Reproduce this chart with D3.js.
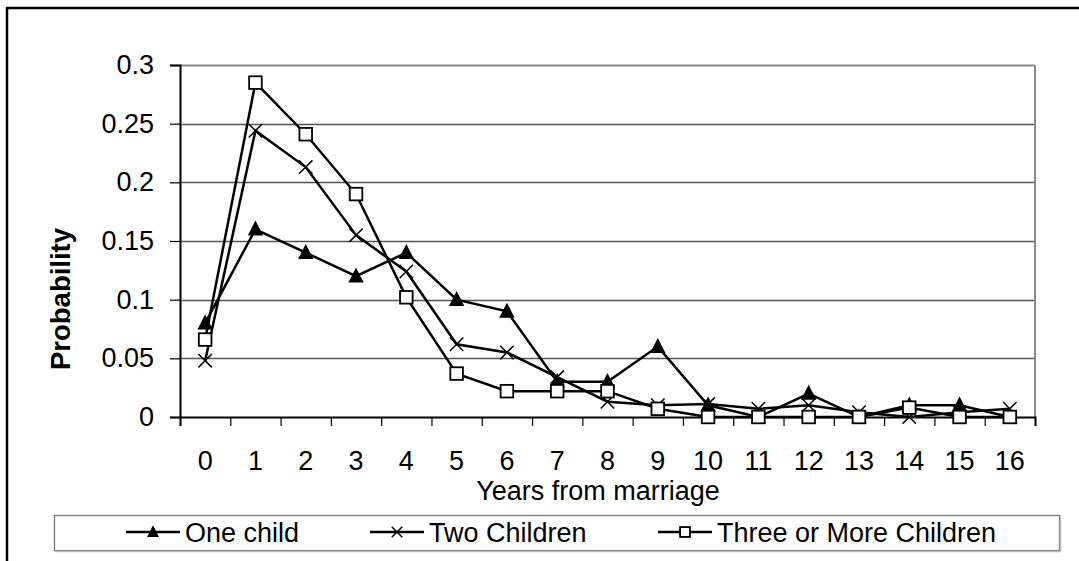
<!DOCTYPE html>
<html>
<head>
<meta charset="utf-8">
<script src="https://cdn.jsdelivr.net/npm/d3@7"></script>
<style>
  body { margin: 0; background: #fff; }
  svg { display: block; font-family: Arial, "Liberation Sans", sans-serif; }
</style>
</head>
<body>
<div id="chart"></div>
<script>
var width = 1079;
var height = 561;

// data
var years = ["0","1","2","3","4","5","6","7","8","9","10","11","12","13","14","15","16"];
var oneChild = [0.08, 0.16, 0.14, 0.12, 0.14, 0.10, 0.09, 0.03, 0.03, 0.06, 0.01, 0, 0.02, 0, 0.01, 0.01, 0];
var twoChildren = [0.048, 0.244, 0.213, 0.155, 0.124, 0.062, 0.055, 0.034, 0.013, 0.01, 0.011, 0.007, 0.01, 0.004, 0, 0.004, 0.007];
var threeChildren = [0.066, 0.285, 0.241, 0.19, 0.102, 0.037, 0.022, 0.022, 0.022, 0.007, 0, 0, 0, 0, 0.008, 0, 0];
var yTicks = [0, 0.05, 0.1, 0.15, 0.2, 0.25, 0.3];

var series = [
  { name: "One child", values: oneChild, marker: "triangle" },
  { name: "Two Children", values: twoChildren, marker: "cross" },
  { name: "Three or More Children", values: threeChildren, marker: "square" }
];

var plot = { left: 180, right: 1035, top: 65, bottom: 417 };
var fontSize = 27;

var svg = d3.select("#chart").append("svg")
  .attr("width", width)
  .attr("height", height);

// outer frame (only top and left visible)
svg.append("path")
  .attr("d", "M7,561 L7,8 L1079,8")
  .attr("fill", "none")
  .attr("stroke", "#000")
  .attr("stroke-width", 2.5);

var x = d3.scaleBand().domain(years).range([plot.left, plot.right]).padding(0);
var xEdge = d3.scaleLinear().domain([0, years.length]).range([plot.left, plot.right]);
var y = d3.scaleLinear().domain([0, 0.3]).range([plot.bottom, plot.top]);

// gridlines
svg.append("g")
  .selectAll("line")
  .data(yTicks.slice(1))
  .enter().append("line")
  .attr("x1", plot.left).attr("x2", plot.right)
  .attr("y1", function(d) { return Math.round(y(d)) + 0.5; })
  .attr("y2", function(d) { return Math.round(y(d)) + 0.5; })
  .attr("stroke", function(d) { return d == 0.3 ? "#888" : "#555"; })
  .attr("stroke-width", function(d) { return d == 0.3 ? 2 : 1.3; });

// right border of plot area
svg.append("line")
  .attr("x1", plot.right).attr("x2", plot.right)
  .attr("y1", plot.top).attr("y2", plot.bottom)
  .attr("stroke", "#888")
  .attr("stroke-width", 2);

// y axis
var yAxis = d3.axisLeft(y)
  .tickValues(yTicks)
  .tickSize(10)
  .tickPadding(16)
  .tickFormat(function(d) { return String(+d.toFixed(2)); });

var gy = svg.append("g")
  .attr("transform", "translate(" + plot.left + ",0)")
  .call(yAxis);
gy.select(".domain").attr("stroke", "#000").attr("stroke-width", 2);
gy.selectAll(".tick line").attr("stroke", "#000").attr("stroke-width", 1.2);
gy.selectAll("text").attr("font-size", fontSize).attr("fill", "#000")
  .attr("font-family", "Arial, 'Liberation Sans', sans-serif");

// x axis: ticks on category edges
var gxTicks = svg.append("g")
  .attr("transform", "translate(0," + plot.bottom + ")")
  .call(d3.axisBottom(xEdge).tickValues(d3.range(years.length + 1)).tickSize(9).tickFormat(""));
gxTicks.select(".domain").attr("stroke", "#000").attr("stroke-width", 2);
gxTicks.selectAll(".tick line").attr("stroke", "#000").attr("stroke-width", 1.2);

// x axis labels at category centres
var gx = svg.append("g")
  .attr("transform", "translate(0," + plot.bottom + ")")
  .call(d3.axisBottom(x).tickSize(0).tickPadding(34));
gx.select(".domain").remove();
gx.selectAll("text").attr("font-size", fontSize).attr("fill", "#000")
  .attr("font-family", "Arial, 'Liberation Sans', sans-serif");

// axis titles
svg.append("text")
  .attr("x", 598)
  .attr("y", 500)
  .attr("text-anchor", "middle")
  .attr("font-size", fontSize)
  .text("Years from marriage");

svg.append("text")
  .attr("transform", "translate(70,299) rotate(-90)")
  .attr("text-anchor", "middle")
  .attr("font-size", 27.5)
  .attr("font-weight", "bold")
  .text("Probability");

// markers
function drawMarker(g, type, cx, cy, s) {
  if (type == "triangle") {
    g.append("path")
      .attr("d", "M" + cx + "," + (cy - s * 0.62) + " L" + (cx + s * 0.55) + "," + (cy + s * 0.45) +
        " L" + (cx - s * 0.55) + "," + (cy + s * 0.45) + " Z")
      .attr("fill", "#000");
  } else if (type == "cross") {
    var h = s * 0.48;
    g.append("path")
      .attr("d", "M" + (cx - h) + "," + (cy - h) + " L" + (cx + h) + "," + (cy + h) +
        " M" + (cx + h) + "," + (cy - h) + " L" + (cx - h) + "," + (cy + h))
      .attr("stroke", "#000")
      .attr("stroke-width", 1.5);
  } else {
    var q = s * 0.45;
    g.append("rect")
      .attr("x", cx - q).attr("y", cy - q)
      .attr("width", q * 2).attr("height", q * 2)
      .attr("fill", "#fff")
      .attr("stroke", "#000")
      .attr("stroke-width", 1.8);
  }
}

var line = d3.line()
  .x(function(d, i) { return x(years[i]) + x.bandwidth() / 2; })
  .y(function(d) { return y(d); });

series.forEach(function(s) {
  var g = svg.append("g");
  g.append("path")
    .datum(s.values)
    .attr("d", line)
    .attr("fill", "none")
    .attr("stroke", "#000")
    .attr("stroke-width", 2.5);
  s.values.forEach(function(v, i) {
    drawMarker(g, s.marker, x(years[i]) + x.bandwidth() / 2, y(v), 14);
  });
});

// legend
var legend = svg.append("g");
legend.append("rect")
  .attr("x", 54.5).attr("y", 515.5)
  .attr("width", 1005).attr("height", 35)
  .attr("fill", "#fff")
  .attr("stroke", "#777")
  .attr("stroke-width", 1.3);
legend.append("path")
  .attr("d", "M55,551.5 L1060.5,551.5 L1060.5,516")
  .attr("fill", "none")
  .attr("stroke", "#bbb")
  .attr("stroke-width", 1.5);

var legendX = [126, 370, 658];
series.forEach(function(s, i) {
  var lx = legendX[i];
  legend.append("line")
    .attr("x1", lx).attr("x2", lx + 54)
    .attr("y1", 532).attr("y2", 532)
    .attr("stroke", "#000")
    .attr("stroke-width", 2.5);
  drawMarker(legend, s.marker, lx + 27, 532, 11);
  legend.append("text")
    .attr("x", lx + 59)
    .attr("y", 542)
    .attr("font-size", fontSize)
    .text(s.name);
});
</script>
</body>
</html>
